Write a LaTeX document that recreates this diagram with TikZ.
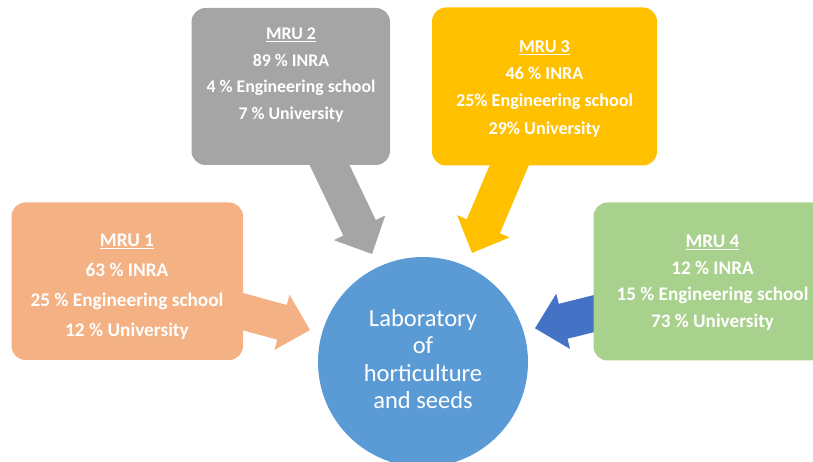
\documentclass[tikz,border=0pt]{standalone}
\usepackage{fontspec}
\setmainfont{Carlito}
\definecolor{orangeB}{HTML}{F4B183}
\definecolor{grayB}{HTML}{A5A5A5}
\definecolor{goldB}{HTML}{FFC000}
\definecolor{greenB}{HTML}{A9D18E}
\definecolor{blueC}{HTML}{5B9BD5}
\definecolor{blueA}{HTML}{4472C4}
\tikzset{
  mrubox/.style={rounded corners=14pt, inner sep=0pt, draw=none},
  mrutext/.style={text=white, align=center, inner sep=0pt},
  blockarrow/.style={draw=none},
}
% block arrow with tip at origin pointing +x; #1 = total length
\newcommand{\blockarrowpath}[1]{(0,0) -- (-29,28.5) -- (-29,18) -- (-#1,18) -- (-#1,-18) -- (-29,-18) -- (-29,-28.5) -- cycle}
\begin{document}
\begin{tikzpicture}[x=1pt,y=1pt]
\useasboundingbox (0,0) rectangle (813,462);
\clip (0,0) rectangle (813,462);
% arrows (drawn first, under boxes)
\coordinate (tip1) at (310,132);
\coordinate (tip2) at (372,208);
\coordinate (tip3) at (472,209);
\coordinate (tip4) at (535,133.7);
\begin{scope}[shift={(tip1)}, rotate=-15.3]
  \fill[orangeB, blockarrow] \blockarrowpath{85};
\end{scope}
\begin{scope}[shift={(tip2)}, rotate=-64.5]
  \fill[grayB, blockarrow] \blockarrowpath{115};
\end{scope}
\begin{scope}[shift={(tip3)}, rotate=-113]
  \fill[goldB, blockarrow] \blockarrowpath{112};
\end{scope}
\begin{scope}[shift={(tip4)}, rotate=-166]
  \fill[blueA, blockarrow] \blockarrowpath{80};
\end{scope}
% boxes
\node[mrubox, fill=orangeB, minimum width=231.5pt, minimum height=157.5pt] (mru1) at (127.25,180.75) {};
\node[mrubox, fill=grayB, minimum width=198.5pt, minimum height=157pt] (mru2) at (290.75,375.5) {};
\node[mrubox, fill=goldB, minimum width=225pt, minimum height=158pt] (mru3) at (544.5,375.5) {};
\node[mrubox, fill=greenB, minimum width=239.5pt, minimum height=158pt] (mru4) at (713.25,180.5) {};
% texts
\node[mrutext, font=\bfseries\fontsize{19.3}{30}\selectfont] (t1) at (127,175.5)
  {\underline{MRU 1}\\63 \% INRA\\25 \% Engineering school\\12 \% University};
\node[mrutext, font=\bfseries\fontsize{17.8}{26.6}\selectfont] (t2) at (291,386.8)
  {\underline{MRU 2}\\89 \% INRA\\4 \% Engineering school\\7 \% University};
\node[mrutext, font=\bfseries\fontsize{18.1}{27.2}\selectfont] (t3) at (544.5,373.3)
  {\underline{MRU 3}\\46 \% INRA\\25\% Engineering school\\29\% University};
\node[mrutext, font=\bfseries\fontsize{19.2}{26.8}\selectfont] (t4) at (712.5,179.3)
  {\underline{MRU 4}\\12 \% INRA\\15 \% Engineering school\\73 \% University};
% circle
\node[circle, fill=blueC, minimum size=210pt, inner sep=0pt] (lab) at (423,100) {};
\node[text=white, align=center, inner sep=0pt, font=\fontsize{24.5}{27.5}\selectfont] (labtext) at (423,103)
  {Laboratory\\of\\horticulture\\and seeds};
\end{tikzpicture}
\end{document}
